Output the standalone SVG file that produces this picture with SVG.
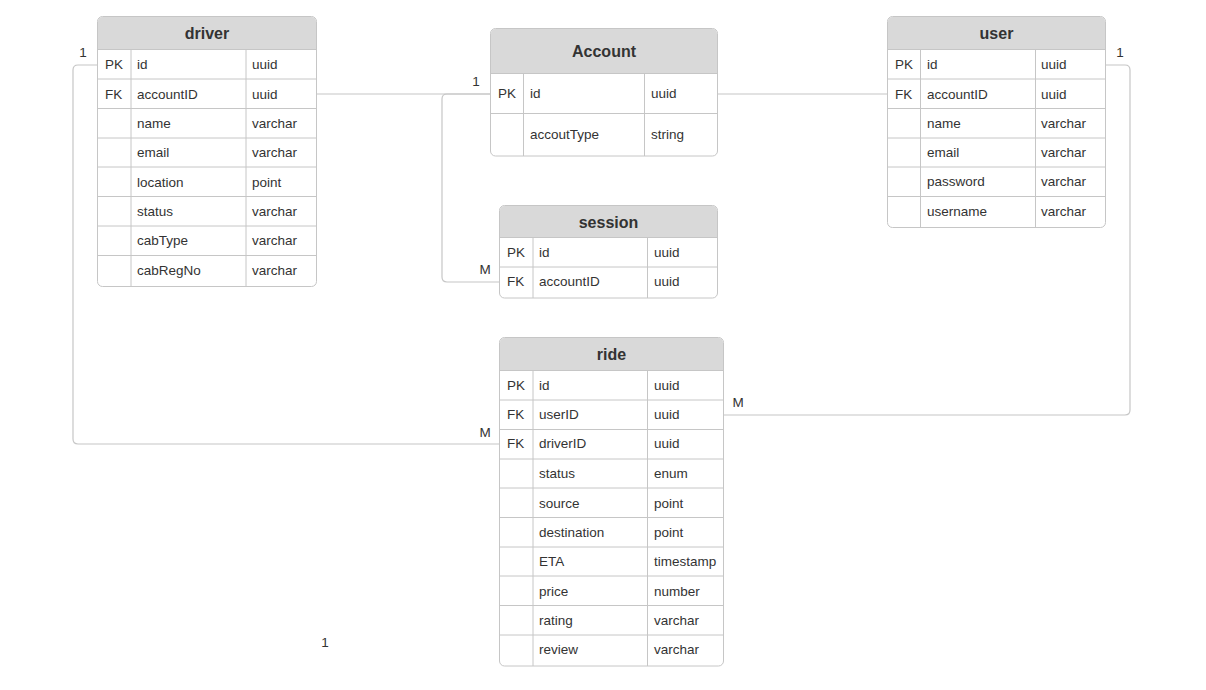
<svg xmlns="http://www.w3.org/2000/svg" width="1206" height="690" viewBox="0 0 1206 690">
<style>
.tb{fill:#ffffff;stroke:#c6c6c6;stroke-width:1}
.hd{fill:#d9d9d9;stroke:none}
.ln{stroke:#c6c6c6;stroke-width:1;fill:none}
.ht{font-family:"Liberation Sans",Arial,sans-serif;font-size:16px;font-weight:bold;fill:#333333;text-anchor:middle}
.t{font-family:"Liberation Sans",Arial,sans-serif;font-size:13.5px;fill:#333333}
.lb{font-family:"Liberation Sans",Arial,sans-serif;font-size:13.5px;fill:#333333;text-anchor:middle}
.cn{stroke:#c6c6c6;stroke-width:1.2;fill:none}
</style>
<rect width="1206" height="690" fill="#ffffff"/>
<g id="connectors">
<path class="cn" d="M97,65 H78 Q73,65 73,70 V439 Q73,444 78,444 H499"/>
<path class="cn" d="M316,94 H490"/>
<path class="cn" d="M490,94 H447 Q442,94 442,99 V277 Q442,282 447,282 H499"/>
<path class="cn" d="M718,94 H887"/>
<path class="cn" d="M1106,65 H1125 Q1130,65 1130,70 V410 Q1130,415 1125,415 H724"/>
<text class="lb" x="83" y="57">1</text>
<text class="lb" x="485" y="437">M</text>
<text class="lb" x="476" y="86">1</text>
<text class="lb" x="485" y="274">M</text>
<text class="lb" x="1120" y="57">1</text>
<text class="lb" x="738" y="407">M</text>
<text class="lb" x="325" y="647">1</text>
</g>
<g id="driver">
<rect class="tb" x="97.5" y="16.5" width="219" height="270" rx="5"/>
<path class="hd" d="M98,49.5 V21.5 Q98,17 102.5,17 H311.5 Q316,17 316,21.5 V49.5 Z"/>
<path class="ln" d="M97.5,49.5 H316.5 M97.5,79 H316.5 M97.5,108.5 H316.5 M97.5,138 H316.5 M97.5,167 H316.5 M97.5,196.5 H316.5 M97.5,226 H316.5 M97.5,255.5 H316.5 M131,49.5 V286.5 M246,49.5 V286.5"/>
<text class="ht" x="207" y="39">driver</text>
<text class="t" x="105" y="69">PK</text><text class="t" x="137" y="69">id</text><text class="t" x="252" y="69">uuid</text>
<text class="t" x="105" y="99">FK</text><text class="t" x="137" y="99">accountID</text><text class="t" x="252" y="99">uuid</text>
<text class="t" x="137" y="127.5">name</text><text class="t" x="252" y="127.5">varchar</text>
<text class="t" x="137" y="157">email</text><text class="t" x="252" y="157">varchar</text>
<text class="t" x="137" y="187">location</text><text class="t" x="252" y="187">point</text>
<text class="t" x="137" y="216">status</text><text class="t" x="252" y="216">varchar</text>
<text class="t" x="137" y="245">cabType</text><text class="t" x="252" y="245">varchar</text>
<text class="t" x="137" y="275">cabRegNo</text><text class="t" x="252" y="275">varchar</text>
</g>
<g id="account">
<rect class="tb" x="490.5" y="28.5" width="227" height="127.5" rx="5"/>
<path class="hd" d="M491,73.5 V33.5 Q491,29 495.5,29 H712.5 Q717,29 717,33.5 V73.5 Z"/>
<path class="ln" d="M490.5,73.5 H717.5 M490.5,113.5 H717.5 M523.5,73.5 V156 M644.5,73.5 V156"/>
<text class="ht" x="604" y="57">Account</text>
<text class="t" x="498" y="98">PK</text><text class="t" x="530" y="98">id</text><text class="t" x="651" y="98">uuid</text>
<text class="t" x="530" y="139">accoutType</text><text class="t" x="651" y="139">string</text>
</g>
<g id="session">
<rect class="tb" x="499.5" y="205.5" width="218" height="92.5" rx="5"/>
<path class="hd" d="M500,237.5 V210.5 Q500,206 504.5,206 H712.5 Q717,206 717,210.5 V237.5 Z"/>
<path class="ln" d="M499.5,237.5 H717.5 M499.5,267 H717.5 M533,237.5 V298 M647.5,237.5 V298"/>
<text class="ht" x="608.5" y="227.5">session</text>
<text class="t" x="507" y="257">PK</text><text class="t" x="539" y="257">id</text><text class="t" x="654" y="257">uuid</text>
<text class="t" x="507" y="286">FK</text><text class="t" x="539" y="286">accountID</text><text class="t" x="654" y="286">uuid</text>
</g>
<g id="user">
<rect class="tb" x="887.5" y="16.5" width="218" height="211" rx="5"/>
<path class="hd" d="M888,49.5 V21.5 Q888,17 892.5,17 H1100.5 Q1105,17 1105,21.5 V49.5 Z"/>
<path class="ln" d="M887.5,49.5 H1105.5 M887.5,79 H1105.5 M887.5,108.5 H1105.5 M887.5,138 H1105.5 M887.5,167 H1105.5 M887.5,196.5 H1105.5 M920.5,49.5 V227.5 M1035.5,49.5 V227.5"/>
<text class="ht" x="996.5" y="39">user</text>
<text class="t" x="895" y="69">PK</text><text class="t" x="927" y="69">id</text><text class="t" x="1041" y="69">uuid</text>
<text class="t" x="895" y="99">FK</text><text class="t" x="927" y="99">accountID</text><text class="t" x="1041" y="99">uuid</text>
<text class="t" x="927" y="127.5">name</text><text class="t" x="1041" y="127.5">varchar</text>
<text class="t" x="927" y="157">email</text><text class="t" x="1041" y="157">varchar</text>
<text class="t" x="927" y="186">password</text><text class="t" x="1041" y="186">varchar</text>
<text class="t" x="927" y="216">username</text><text class="t" x="1041" y="216">varchar</text>
</g>
<g id="ride">
<rect class="tb" x="499.5" y="337.5" width="224" height="328.5" rx="5"/>
<path class="hd" d="M500,370.5 V342.5 Q500,338 504.5,338 H718.5 Q723,338 723,342.5 V370.5 Z"/>
<path class="ln" d="M499.5,370.5 H723.5 M499.5,400 H723.5 M499.5,429.5 H723.5 M499.5,459 H723.5 M499.5,488 H723.5 M499.5,517.5 H723.5 M499.5,547 H723.5 M499.5,576 H723.5 M499.5,605.5 H723.5 M499.5,635 H723.5 M533,370.5 V666 M647.5,370.5 V666"/>
<text class="ht" x="611.5" y="360">ride</text>
<text class="t" x="507" y="390">PK</text><text class="t" x="539" y="390">id</text><text class="t" x="654" y="390">uuid</text>
<text class="t" x="507" y="419">FK</text><text class="t" x="539" y="419">userID</text><text class="t" x="654" y="419">uuid</text>
<text class="t" x="507" y="448">FK</text><text class="t" x="539" y="448">driverID</text><text class="t" x="654" y="448">uuid</text>
<text class="t" x="539" y="478">status</text><text class="t" x="654" y="478">enum</text>
<text class="t" x="539" y="508">source</text><text class="t" x="654" y="508">point</text>
<text class="t" x="539" y="537">destination</text><text class="t" x="654" y="537">point</text>
<text class="t" x="539" y="566">ETA</text><text class="t" x="654" y="566">timestamp</text>
<text class="t" x="539" y="596">price</text><text class="t" x="654" y="596">number</text>
<text class="t" x="539" y="625">rating</text><text class="t" x="654" y="625">varchar</text>
<text class="t" x="539" y="654">review</text><text class="t" x="654" y="654">varchar</text>
</g>
</svg>
